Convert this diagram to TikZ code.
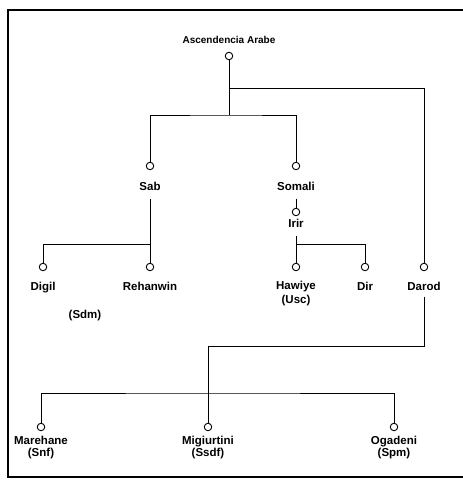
\documentclass[tikz,border=0pt]{standalone}
\usepackage{fontspec}
\setmainfont{Liberation Sans}
\usetikzlibrary{positioning}

\begin{document}
\begin{tikzpicture}[
    x=1pt, y=-1pt,
    clan/.style={circle, draw, line width=0.9pt, fill=white, inner sep=0pt, minimum size=7.5pt},
    lbl/.style={inner sep=0pt, text height=9pt, text depth=2pt,
        font=\fontsize{11.5}{11}\selectfont\bfseries},
    lbltwo/.style={inner sep=0pt, align=center,
        font=\fontsize{11.5}{11.5}\selectfont\bfseries},
    link/.style={-, line width=1pt}
]
    \useasboundingbox (0,0) rectangle (463,480);
    % frame
    \draw[line width=2.5pt] (463,10) -- (8,10) -- (8,477) -- (463,477);

    % circles
    \node[clan] (arabec) at (229,56) {};
    \node[clan] (sabc) at (150,166) {};
    \node[clan] (somalic) at (296,166) {};
    \node[clan] (irirc) at (296,212) {};
    \node[clan] (digilc) at (43,267) {};
    \node[clan] (rehanwinc) at (150,267) {};
    \node[clan] (hawiyec) at (296,267) {};
    \node[clan] (dirc) at (365,267) {};
    \node[clan] (darodc) at (424,267) {};
    \node[clan] (marehanec) at (41,427) {};
    \node[clan] (migiurtinic) at (208,427) {};
    \node[clan] (ogadenic) at (394,427) {};

    % labels
    \node[lbl, font=\fontsize{10}{11}\selectfont\bfseries, above=6pt of arabec] (arabe) {Ascendencia Arabe};
    \node[lbl, below=11pt of sabc] (sab) {Sab};
    \node[lbl, below=11pt of somalic] (somali) {Somali};
    \node[lbl, below=2pt of irirc] (irir) {Irir};
    \node[lbl, below=10pt of digilc] (digil) {Digil};
    \node[lbl, below=10pt of rehanwinc] (rehanwin) {Rehanwin};
    \node[lbltwo, font=\fontsize{11.5}{14}\selectfont\bfseries, below=10pt of hawiyec] (hawiye) {Hawiye\\(Usc)};
    \node[lbl, below=10pt of dirc] (dir) {Dir};
    \node[lbl, below=10pt of darodc] (darod) {Darod};
    \node[lbl] (sdm) at (85,315) {(Sdm)};
    \node[lbltwo, below=5pt of marehanec] (marehane) {Marehane\\(Snf)};
    \node[lbltwo, below=5pt of migiurtinic] (migiurtini) {Migiurtini\\(Ssdf)};
    \node[lbltwo, below=5pt of ogadenic] (ogadeni) {Ogadeni\\(Spm)};

    % junctions
    \coordinate (j0) at (229,88);
    \coordinate (j1) at (229,115);
    \coordinate (j2) at (150,244);
    \coordinate (j3) at (296,244);
    \coordinate (j4) at (208,346);
    \coordinate (j5) at (208,393);

    \draw[link] (arabec) -- (j1);
    \draw[link] (j0) -| (darodc);
    \draw[link] (sabc) |- (j1) -| (somalic);
    \draw[link] ([yshift=-6pt]sab.south) -- (rehanwinc);
    \draw[link] (j2) -| (digilc);
    \draw[link] ([yshift=-6pt]somali.south) -- (irirc);
    \draw[link] ([yshift=-6pt]irir.south) -- (hawiyec);
    \draw[link] (j3) -| (dirc);
    \draw[link] ([yshift=-4pt]darod.south) |- (j4) -- (migiurtinic);
    \draw[link] (marehanec) |- (j5) -| (ogadenic);
\end{tikzpicture}
\end{document}
